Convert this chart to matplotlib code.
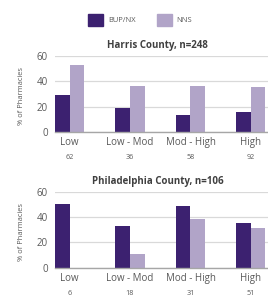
import numpy as np
import matplotlib
matplotlib.use("Agg")
import matplotlib.pyplot as plt
from matplotlib.patches import Patch

plt.rcParams['font.family'] = ['Open Sans', 'DejaVu Sans']

# data
groups = ["Low", "Low - Mod", "Mod - High", "High"]
harris_n = [62, 36, 58, 92]
harris_bup = [29.0, 19.4, 13.8, 16.3]
harris_nns = [53.2, 36.1, 36.2, 35.9]
phila_n = [6, 18, 31, 51]
phila_bup = [50.0, 33.3, 48.4, 35.3]
phila_nns = [0.0, 11.1, 38.7, 31.4]

c_bup = "#3c2170"
c_nns = "#b1a4c8"
txt = "#595959"

fig = plt.figure(figsize=(2.68, 2.95), dpi=100)

W, H = 268.0, 295.0
ax_left = 55 / W
ax_w = 213.5 / W
panels = [
    ("Harris County, n=248", harris_bup, harris_nns, harris_n, (295 - 132.3) / H, 76.3 / H),
    ("Philadelphia County, n=106", phila_bup, phila_nns, phila_n, (295 - 267.7) / H, 76.0 / H),
]

x = np.arange(len(groups))
bw = 0.24
for title, bup, nns, ns, bot, hgt in panels:
    ax = fig.add_axes([ax_left, bot, ax_w, hgt])
    ax.bar(x - bw / 2, bup, bw, color=c_bup, zorder=3)
    ax.bar(x + bw / 2, nns, bw, color=c_nns, zorder=3)
    ax.set_xlim(-0.24, 3.29)
    ax.set_ylim(0, 60)
    ax.set_yticks([0, 20, 40, 60])
    ax.grid(axis='y', color="#d9d9d9", linewidth=0.9, zorder=0)
    for s in ["top", "right", "left"]:
        ax.spines[s].set_visible(False)
    ax.spines["bottom"].set_color("#a6a6a6")
    ax.spines["bottom"].set_linewidth(1.0)
    ax.spines["bottom"].set_zorder(4)
    ax.tick_params(axis='both', length=0, labelsize=7, labelcolor=txt)
    ax.tick_params(axis='y', pad=5)
    ax.tick_params(axis='x', pad=3.5)
    ax.set_xticks(x)
    ax.set_xticklabels(groups)
    ax.set_ylabel("% of Pharmacies", fontsize=5.4, color=txt)
    ax.yaxis.set_label_coords(-0.14, 0.47)
    ax.text(0.482, 1 + 10.5 / (hgt * H), title, transform=ax.transAxes,
            ha='center', va='center', fontsize=7, fontweight='bold', color="#404040")
    for xi, n in zip(x, ns):
        ax.annotate(str(n), xy=(xi, 0), xycoords=('data', 'axes fraction'),
                    xytext=(0, -18.3), textcoords='offset points',
                    ha='center', va='center', fontsize=5.2, color=txt)

handles = [Patch(color=c_bup, label="BUP/NX"), Patch(color=c_nns, label="NNS")]
leg = fig.legend(handles=handles, loc='center', bbox_to_anchor=(140 / W, 1 - 20 / H),
                 ncol=2, frameon=False, fontsize=5.4, handlelength=2.0, handleheight=2.0,
                 handletextpad=0.6, columnspacing=2.8, borderpad=0)
for t in leg.get_texts():
    t.set_color(txt)

fig.savefig("out.png", dpi=100)
